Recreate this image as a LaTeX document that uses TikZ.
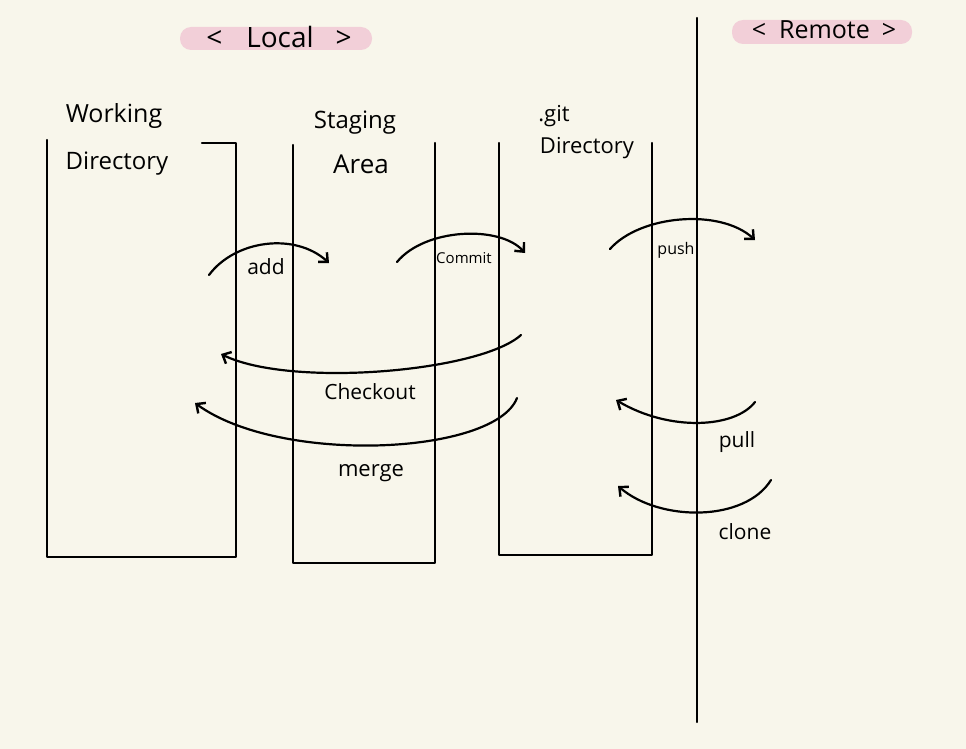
\documentclass[tikz,border=0pt]{standalone}
\usepackage{fontspec}
\setmainfont{Open Sans}
\usetikzlibrary{arrows.meta}
\definecolor{paper}{HTML}{F8F6EB}
\definecolor{tag}{HTML}{F2CFD8}
\tikzset{
  ink/.style={line width=2.2pt, draw=black, line cap=round, line join=round},
  flow/.style={ink, -{Straight Barb[length=7pt,width=13pt,line width=2.4pt]}},
  tagbar/.style={fill=tag, rounded corners=11pt, draw=none},
  title/.style={font=\fontsize{24}{26}\selectfont, inner sep=0pt},
  verb/.style={font=\fontsize{21}{23}\selectfont, inner sep=0pt},
}
\begin{document}
\begin{tikzpicture}[x=1pt,y=-1pt]
\fill[paper] (0,0) rectangle (966,749);
\useasboundingbox (0,0) rectangle (966,749);

% tags
\fill[tagbar] (180,27) rectangle (372,50);
\node[title, font=\fontsize{28}{30}\selectfont] (local) at (279,37) {<\hspace{24pt}Local\hspace{22pt}>};
\fill[tagbar] (732,20) rectangle (912,44);
\node[title, font=\fontsize{25}{27}\selectfont] (remote) at (824,30) {<\hspace{13pt}Remote\hspace{12pt}>};

% divider
\coordinate (dtop) at (697,18);
\coordinate (dbot) at (697,722);
\draw[ink] (dtop) -- (dbot);

% Working directory
\coordinate (w1) at (47,140);
\coordinate (w2) at (47,557);
\coordinate (w3) at (236,557);
\coordinate (w4) at (236,143);
\coordinate (w5) at (202,143);
\draw[ink] (w1) -- (w2) -- (w3) -- (w4) -- (w5);
\node[title, font=\fontsize{25}{27}\selectfont] (wd1) at (114,116) {Working};
\node[title] (wd2) at (117,164) {Directory};

% Staging area
\coordinate (s1) at (293,145);
\coordinate (s2) at (293,563);
\coordinate (s3) at (435,563);
\coordinate (s4) at (435,143);
\draw[ink] (s1) -- (s2) -- (s3) -- (s4);
\node[title] (sa1) at (355,123) {Staging};
\node[title, font=\fontsize{26}{28}\selectfont] (sa2) at (361,164) {Area};

% git directory
\coordinate (g1) at (499,143);
\coordinate (g2) at (499,555);
\coordinate (g3) at (652,555);
\coordinate (g4) at (652,143);
\draw[ink] (g1) -- (g2) -- (g3) -- (g4);
\node[title, font=\fontsize{22}{24}\selectfont] (gd1) at (554,116) {.git};
\node[title, font=\fontsize{22}{24}\selectfont] (gd2) at (587,148) {Directory};

% add
\coordinate (a0) at (209,275);
\coordinate (a1) at (329,263);
\draw[flow] (a0) .. controls (235,240) and (295,232) .. (a1);
\node[verb] (add) at (266,267) {add};

% commit
\coordinate (c0) at (397,262);
\coordinate (c1) at (525,253);
\draw[flow] (c0) .. controls (425,228) and (500,225) .. (c1);
\node[verb, font=\fontsize{15}{17}\selectfont] (commit) at (464,258) {Commit};

% push
\coordinate (p0) at (610,249);
\coordinate (p1) at (755,240);
\draw[flow] (p0) .. controls (640,215) and (720,208) .. (p1);
\node[verb, font=\fontsize{16}{18}\selectfont] (push) at (676,250) {push};

% checkout
\coordinate (k0) at (521,335);
\coordinate (k1) at (221,354);
\draw[flow] (k0) .. controls (480,372) and (290,388) .. (k1);
\node[verb] (checkout) at (370,392) {Checkout};

% merge
\coordinate (m0) at (517,398);
\coordinate (m1) at (195,403);
\draw[flow] (m0) .. controls (495,455) and (280,465) .. (m1);
\node[verb, font=\fontsize{22}{24}\selectfont] (merge) at (371,473) {merge};

% pull
\coordinate (u0) at (755,402);
\coordinate (u1) at (616,400);
\draw[flow] (u0) .. controls (735,428) and (670,432) .. (u1);
\node[verb] (pull) at (737,442) {pull};

% clone
\coordinate (l0) at (771,480);
\coordinate (l1) at (618,486);
\draw[flow] (l0) .. controls (745,522) and (660,522) .. (l1);
\node[verb] (clone) at (745,532) {clone};
\end{tikzpicture}
\end{document}
